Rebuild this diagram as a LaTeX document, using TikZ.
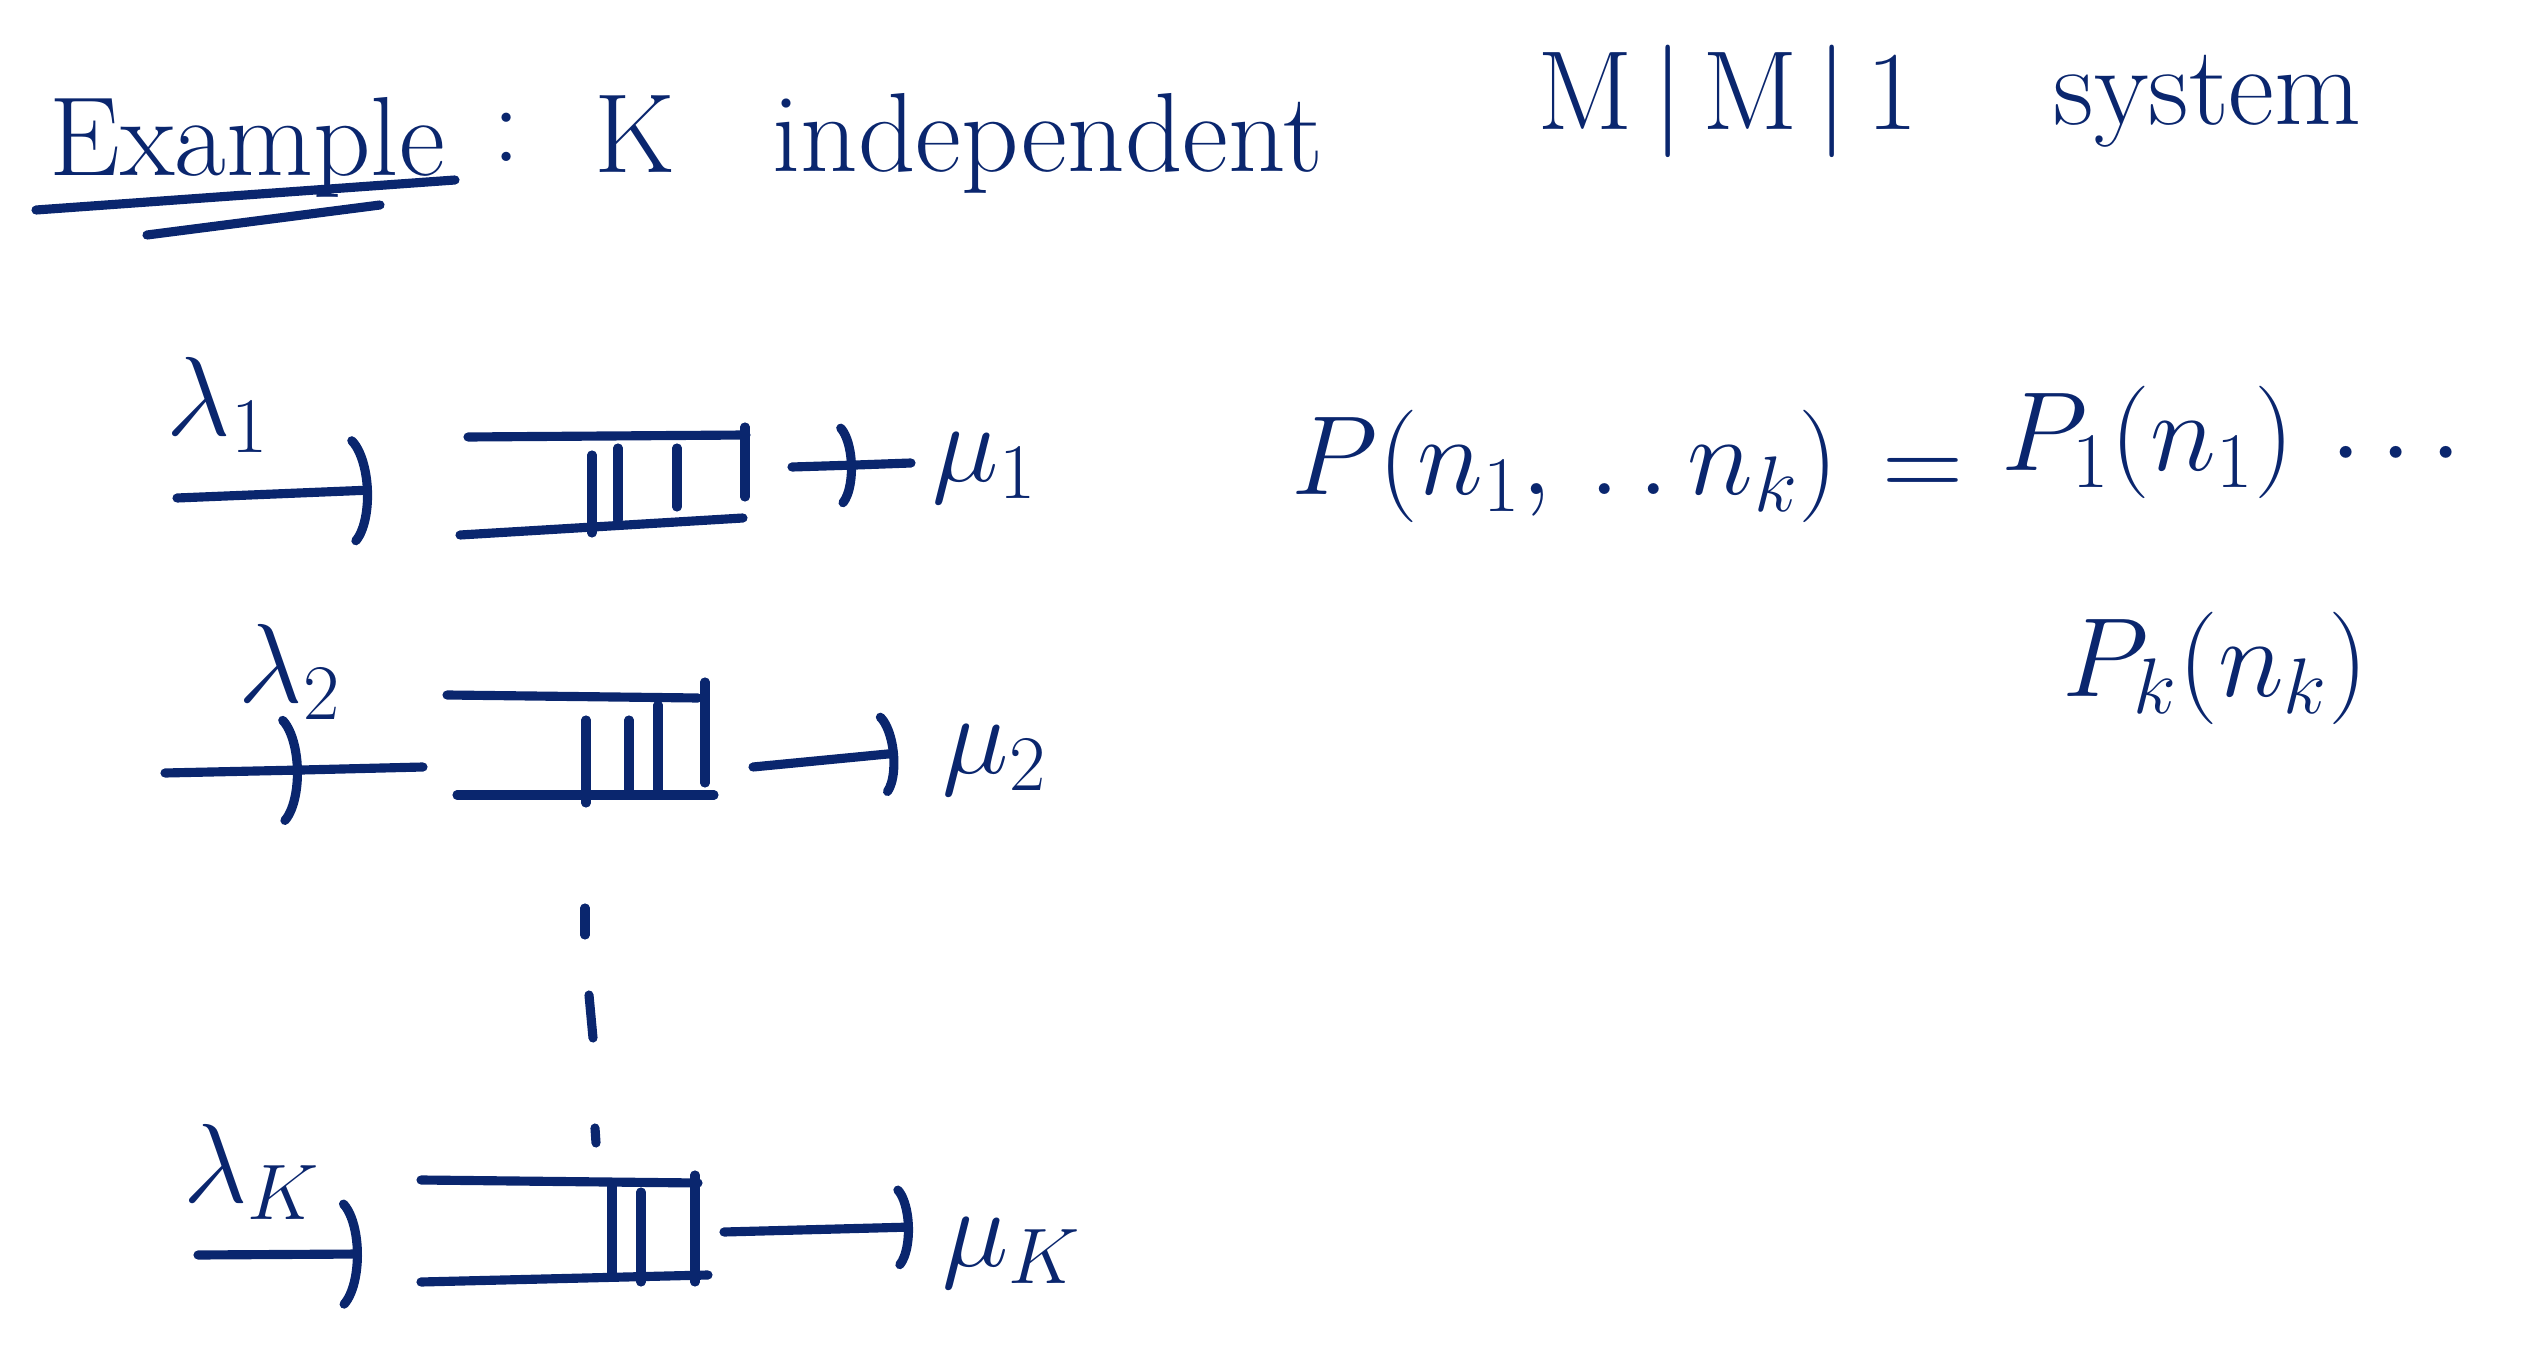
\RequirePackage{fix-cm}
\documentclass[tikz,border=0pt]{standalone}
\usepackage{amsmath, amssymb}
\usetikzlibrary{arrows.meta}
\definecolor{ink}{RGB}{10,38,110}
\tikzstyle{pen}=[draw=ink, line width=2.6pt, line cap=round, line join=round]
\tikzstyle{hand}=[text=ink, inner sep=0, font=\fontsize{32}{38}\selectfont]
\tikzstyle{hooktip}=[-{Arc Barb[arc=130, width=34pt, length=8pt, line width=2.6pt, round]}]
\tikzstyle{smalltip}=[-{Arc Barb[arc=130, width=26pt, length=6pt, line width=2.6pt, round]}]

\begin{document}
\begin{tikzpicture}[x=0.01cm, y=-0.01cm]
\useasboundingbox (0,0) rectangle (2532,1352);
% title
\draw (49,176) node[hand, anchor=base west] (ex) {Example};
\draw (492,162) node[hand, anchor=base west] (colon) {:};
\draw (594,173) node[hand, anchor=base west] (kk) {K};
\draw (772,172) node[hand, anchor=base west] (indep) {independent};
\draw (1537,130) node[hand, anchor=base west] (mmone) {M\,|\,M\,|\,1};
\draw (2053,125) node[hand, anchor=base west] (sys) {system};
\draw[pen] (36,210) -- (455,180);
\draw[pen] (147,235) -- (380,205);
%
\draw (218,405) node[hand] (lam1) {$\lambda_1$};
\draw (290,672) node[hand] (lam2) {$\lambda_2$};
\draw (252,1172) node[hand] (lamk) {$\lambda_K$};
\draw (985,468) node[hand] (mu1) {$\mu_1$};
\draw (995,760) node[hand] (mu2) {$\mu_2$};
\draw (1012,1253) node[hand] (muk) {$\mu_K$};
%
\coordinate (in1a) at (177,498);
\coordinate (in1b) at (372,490);
\coordinate (in2a) at (165,773);
\coordinate (in2m) at (302,770);
\coordinate (in2b) at (423,767);
\coordinate (inka) at (198,1255);
\coordinate (inkb) at (362,1254);
\coordinate (out1a) at (792,467);
\coordinate (out1m) at (856,465);
\coordinate (out1b) at (911,463);
\coordinate (out2a) at (753,767);
\coordinate (out2b) at (898,753);
\coordinate (outka) at (724,1232);
\coordinate (outkb) at (913,1227);
%
\draw[pen, hooktip] (in1a) -- (in1b);
\draw[pen, hooktip] (in2a) -- (in2m);
\draw[pen] (in2m) -- (in2b);
\draw[pen, hooktip] (inka) -- (inkb);
\draw[pen, smalltip] (out1a) -- (out1m);
\draw[pen] (out1m) -- (out1b);
\draw[pen, smalltip] (out2a) -- (out2b);
\draw[pen, smalltip] (outka) -- (outkb);
%
\draw[pen] (468,437) -- (746,435);
\draw[pen] (460,535) -- (743,518);
\foreach \x/\ya/\yb in {592/455/533, 618/448/520, 677/448/507, 745/427/497}
    {\draw[pen] (\x,\ya) -- (\x,\yb);}
%
\draw[pen] (447,695) -- (698,698);
\draw[pen] (457,795) -- (714,795);
\foreach \x/\ya/\yb in {586/720/803, 629/720/793, 658/705/793, 705/682/783}
    {\draw[pen] (\x,\ya) -- (\x,\yb);}
%
\draw[pen] (421,1180) -- (698,1183);
\draw[pen] (421,1282) -- (708,1275);
\foreach \x/\ya/\yb in {612/1185/1275, 641/1192/1282, 695/1175/1282}
    {\draw[pen] (\x,\ya) -- (\x,\yb);}
%
\draw[pen] (585,908) -- (585,935);
\draw[pen] (589,995) -- (593,1038);
\draw[pen] (595,1128) -- (596,1143);
%
\draw (1291,466) node[hand, anchor=west] (pl) {$P(n_1,\,.\,.\,n_k)$};
\draw (1923,478) node[hand] (eqs) {$=$};
\draw (2001,442) node[hand, anchor=west] (pr) {$P_1(n_1)$};
\draw (2330,455) node[hand, anchor=west] (dots) {$\cdots$};
\draw (2062,668) node[hand, anchor=west] (pk) {$P_k(n_k)$};
\end{tikzpicture}
\end{document}
